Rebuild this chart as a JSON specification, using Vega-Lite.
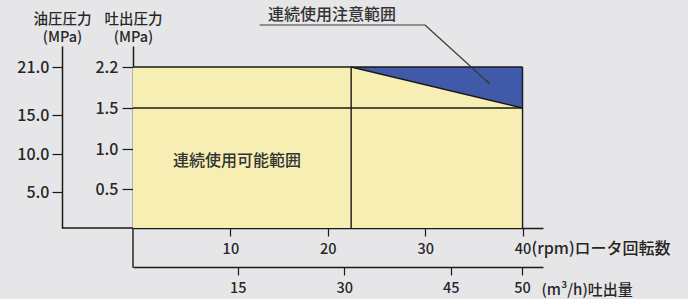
{
  "$schema": "https://vega.github.io/schema/vega-lite/v6.json",
  "width": 410,
  "height": 182,
  "autosize": {"type": "none"},
  "padding": {"left": 133, "top": 46, "right": 145, "bottom": 71},
  "background": "#e6e6e8",
  "config": {
    "view": {"stroke": null},
    "font": "Noto Sans CJK JP",
    "axis": {
      "grid": false,
      "labelFont": "Noto Sans CJK JP",
      "titleFont": "Noto Sans CJK JP",
      "labelColor": "#262626",
      "titleColor": "#262626",
      "domainColor": "#1a1a1a",
      "tickColor": "#1a1a1a",
      "domainWidth": 1.5,
      "tickWidth": 1.2,
      "titleFontWeight": 500,
      "labelFontWeight": 500
    }
  },
  "datasets": {
    "region": [{"x": 0, "x2": 40, "y": 0, "y2": 2.2}],
    "caution": [
      {"x": 22.4, "y": 2.2, "y2": 2.2},
      {"x": 40, "y": 2.2, "y2": 1.5}
    ],
    "lines": [
      {"x": 0, "y": 2.2, "x2": 40, "y2": 2.2},
      {"x": 40, "y": 0, "x2": 40, "y2": 2.2},
      {"x": 0, "y": 1.5, "x2": 40, "y2": 1.5},
      {"x": 22.4, "y": 0, "x2": 22.4, "y2": 2.2},
      {"x": 22.4, "y": 2.2, "x2": 40, "y2": 1.5},
      {"x": -7.3, "y": 0, "x2": 0, "y2": 0},
      {"x": 0, "y": 0, "x2": 0, "y2": -0.51}
    ],
    "leader": [
      {"x": 13.0, "y": 2.8, "x2": 29.98, "y2": 2.8},
      {"x": 29.98, "y": 2.8, "x2": 36.65, "y2": 1.91}
    ],
    "arrow": [{"x": 36.65, "y": 1.91}],
    "labels": [
      {"x": 10.68, "y": 0.85, "label": "連続使用可能範囲"},
      {"x": 20.43, "y": 2.943, "label": "連続使用注意範囲"}
    ],
    "oilAxis": [{"oil": 0}, {"oil": 21}],
    "flowAxis": [{"flow": 0}, {"flow": 50}]
  },
  "layer": [
    {
      "encoding": {
        "x": {
          "field": "x",
          "type": "quantitative",
          "scale": {"domain": [0, 42.1], "range": [0, 410], "nice": false, "zero": false},
          "axis": {
            "orient": "bottom",
            "offset": 0,
            "values": [10, 20, 30, 40],
            "format": "d",
            "tickSize": 8,
            "labelPadding": 6,
            "labelFontSize": 14.5,
            "title": "(rpm)ロータ回転数",
            "titleFontSize": 16,
            "titleAngle": 0,
            "titleX": 398,
            "titleY": 20,
            "titleAlign": "left",
            "titleBaseline": "middle"
          }
        },
        "y": {
          "field": "y",
          "type": "quantitative",
          "scale": {"domain": [0, 0.5, 1, 1.5, 2.2, 2.5], "range": [182, 143, 103, 62, 21, 0], "nice": false, "zero": false},
          "axis": {
            "orient": "left",
            "offset": 0,
            "values": [0.5, 1, 1.5, 2.2],
            "format": ".1f",
            "tickSize": 11,
            "labelPadding": 4,
            "labelFontSize": 16,
            "title": ["吐出圧力", "(MPa)"],
            "titleFontSize": 14.5,
            "titleLineHeight": 18,
            "titleAngle": 0,
            "titleX": 0,
            "titleY": -20,
            "titleAlign": "center",
            "titleBaseline": "bottom"
          }
        }
      },
      "layer": [
        {
          "data": {"name": "region"},
          "mark": {"type": "rect", "fill": "#f6eeb3"},
          "encoding": {"x2": {"field": "x2"}, "y2": {"field": "y2"}}
        },
        {
          "data": {"name": "caution"},
          "mark": {"type": "area", "fill": "#4059a9", "opacity": 1},
          "encoding": {"y2": {"field": "y2"}}
        },
        {
          "data": {"name": "lines"},
          "mark": {"type": "rule", "stroke": "#1a1a1a", "strokeWidth": 1.4},
          "encoding": {"x2": {"field": "x2"}, "y2": {"field": "y2"}}
        },
        {
          "data": {"name": "leader"},
          "mark": {"type": "rule", "stroke": "#3a3a3a", "strokeWidth": 1.2},
          "encoding": {"x2": {"field": "x2"}, "y2": {"field": "y2"}}
        },
        {
          "data": {"name": "arrow"},
          "mark": {
            "type": "point",
            "shape": "M0,0 L-0.45,1.8 L0.45,1.8 Z",
            "filled": true,
            "fill": "#3a3a3a",
            "size": 30,
            "angle": 132,
            "opacity": 1
          }
        },
        {
          "data": {"name": "labels"},
          "mark": {"type": "text", "fontSize": 16, "fill": "#333333", "font": "Noto Sans CJK JP", "fontWeight": 500},
          "encoding": {"text": {"field": "label"}}
        }
      ]
    },
    {
      "data": {"name": "oilAxis"},
      "mark": {"type": "point", "opacity": 0},
      "encoding": {
        "y": {
          "field": "oil",
          "type": "quantitative",
          "scale": {"domain": [0, 5, 10, 15, 21, 23.8], "range": [182, 146, 108, 69, 21, 0], "nice": false, "zero": false},
          "axis": {
            "orient": "left",
            "offset": 71,
            "values": [5, 10, 15, 21],
            "format": ".1f",
            "tickSize": 10,
            "labelPadding": 3,
            "labelFontSize": 16,
            "title": ["油圧圧力", "(MPa)"],
            "titleFontSize": 14.5,
            "titleLineHeight": 18,
            "titleAngle": 0,
            "titleX": 0,
            "titleY": -20,
            "titleAlign": "center",
            "titleBaseline": "bottom"
          }
        }
      }
    },
    {
      "data": {"name": "flowAxis"},
      "mark": {"type": "point", "opacity": 0},
      "encoding": {
        "x": {
          "field": "flow",
          "type": "quantitative",
          "scale": {"domain": [0, 15, 30, 45, 50, 52.7], "range": [0, 104.7, 211.3, 317.7, 389, 410], "nice": false, "zero": false},
          "axis": {
            "orient": "bottom",
            "offset": 39,
            "values": [15, 30, 45, 50],
            "format": "d",
            "tickSize": 8,
            "labelPadding": 6,
            "labelFontSize": 14.5,
            "title": "(m³/h)吐出量",
            "titleFontSize": 15,
            "titleAngle": 0,
            "titleX": 408,
            "titleY": 22,
            "titleAlign": "left",
            "titleBaseline": "middle"
          }
        }
      }
    }
  ],
  "resolve": {
    "scale": {"x": "independent", "y": "independent"},
    "axis": {"x": "independent", "y": "independent"}
  }
}
